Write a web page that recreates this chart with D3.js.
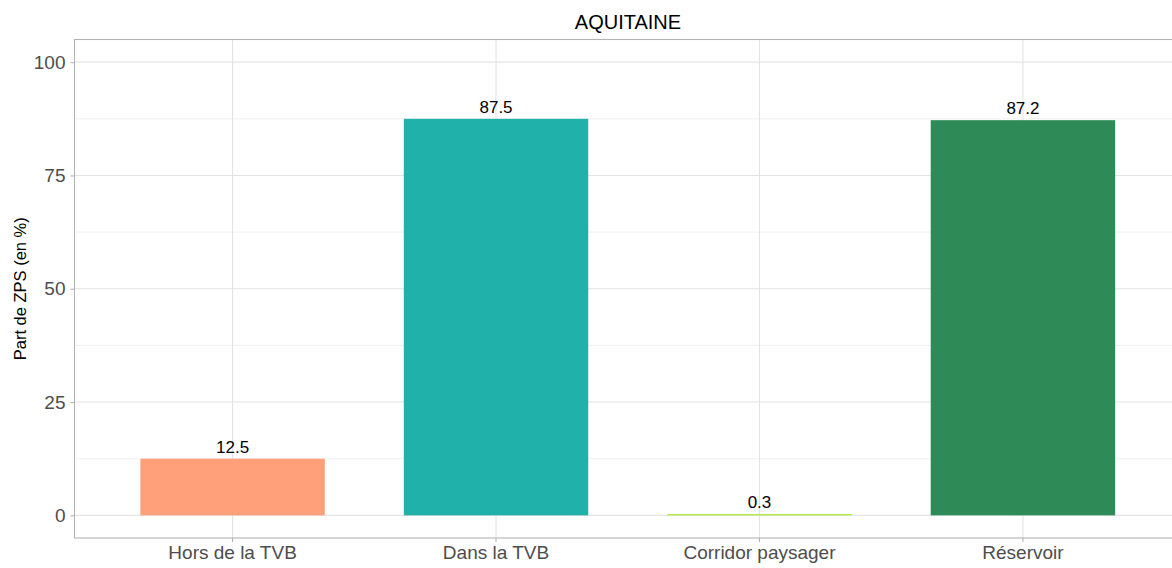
<!DOCTYPE html>
<html>
<head>
<meta charset="utf-8">
<script src="https://cdn.jsdelivr.net/npm/d3@7"></script>
<style>
  body { margin: 0; background: #fff; }
  text { font-family: "Liberation Sans", Arial, sans-serif; }
</style>
</head>
<body>
<div id="chart"></div>
<script>
// data
var categories = ["Hors de la TVB", "Dans la TVB", "Corridor paysager", "Réservoir"];
var values = [12.5, 87.5, 0.3, 87.2];
var barColors = ["#FFA07A", "#20B2AA", "#B3EE3A", "#2E8B57"];
var yTicks = [0, 25, 50, 75, 100];
var yMinor = [12.5, 37.5, 62.5, 87.5];

var W = 1172, H = 568;
// panel goes past the right edge of the picture, like the original
var margin = {top: 39.5, right: -9, bottom: 30, left: 74.5};
var width = W - margin.left - margin.right,
    height = H - margin.top - margin.bottom;

var svg = d3.select("#chart")
    .append("svg")
    .attr("width", W)
    .attr("height", H);

var g = svg.append("g")
    .attr("transform", "translate(" + margin.left + "," + margin.top + ")");

var x = d3.scaleBand()
    .domain(categories)
    .range([0, width])
    .paddingInner(0.3)
    .paddingOuter(0.25);

var y = d3.scaleLinear()
    .domain([-5, 105])
    .range([height, 0]);

// grid
g.selectAll(".minor")
    .data(yMinor)
    .enter().append("line")
    .attr("x1", 0).attr("x2", width)
    .attr("y1", function (d) { return y(d); })
    .attr("y2", function (d) { return y(d); })
    .attr("stroke", "#ececec")
    .attr("stroke-width", 0.8);

g.selectAll(".major")
    .data(yTicks)
    .enter().append("line")
    .attr("x1", 0).attr("x2", width)
    .attr("y1", function (d) { return y(d); })
    .attr("y2", function (d) { return y(d); })
    .attr("stroke", "#e3e3e3")
    .attr("stroke-width", 1.1);

g.selectAll(".vgrid")
    .data(categories)
    .enter().append("line")
    .attr("x1", function (d) { return x(d) + x.bandwidth() / 2; })
    .attr("x2", function (d) { return x(d) + x.bandwidth() / 2; })
    .attr("y1", 0).attr("y2", height)
    .attr("stroke", "#e3e3e3")
    .attr("stroke-width", 1.1);

// bars
g.selectAll(".bar")
    .data(values)
    .enter().append("rect")
    .attr("x", function (d, i) { return x(categories[i]); })
    .attr("width", x.bandwidth())
    .attr("y", function (d) { return y(d); })
    .attr("height", function (d) { return y(0) - y(d); })
    .attr("fill", function (d, i) { return barColors[i]; });

// value labels
g.selectAll(".lbl")
    .data(values)
    .enter().append("text")
    .attr("x", function (d, i) { return x(categories[i]) + x.bandwidth() / 2; })
    .attr("y", function (d) { return y(d) - 6; })
    .attr("text-anchor", "middle")
    .attr("font-size", "17px")
    .attr("fill", "#000")
    .text(function (d) { return d.toFixed(1); });

// panel border
g.append("rect")
    .attr("x", 0).attr("y", 0)
    .attr("width", width).attr("height", height)
    .attr("fill", "none")
    .attr("stroke", "#b3b3b3")
    .attr("stroke-width", 1.1);

// axes
var yAxis = g.append("g")
    .call(d3.axisLeft(y).tickValues(yTicks).tickSize(4).tickPadding(5));
var xAxis = g.append("g")
    .attr("transform", "translate(0," + height + ")")
    .call(d3.axisBottom(x).tickSize(4).tickPadding(4));

[yAxis, xAxis].forEach(function (a) {
    a.select(".domain").remove();
    a.selectAll(".tick line").attr("stroke", "#b3b3b3").attr("stroke-width", 1.1);
    a.selectAll(".tick text")
        .attr("fill", "#4d4d4d")
        .style("font-size", "19px")
        .style("font-family", "'Liberation Sans', Arial, sans-serif");
});

// title
svg.append("text")
    .attr("x", 628)
    .attr("y", 29)
    .attr("text-anchor", "middle")
    .attr("font-size", "20px")
    .attr("fill", "#000")
    .text("AQUITAINE");

// y axis title
svg.append("text")
    .attr("transform", "translate(26," + (margin.top + y(50)) + ") rotate(-90)")
    .attr("text-anchor", "middle")
    .attr("font-size", "16.5px")
    .attr("fill", "#000")
    .text("Part de ZPS (en %)");
</script>
</body>
</html>
